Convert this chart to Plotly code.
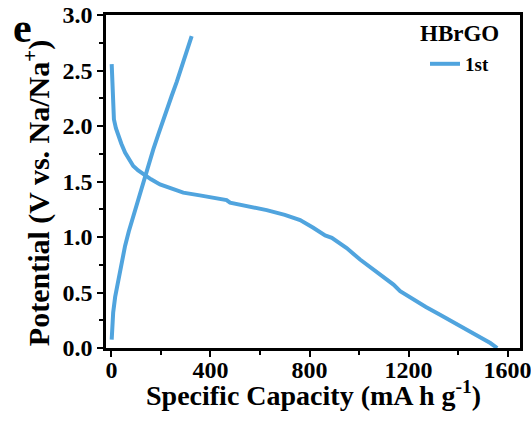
import plotly.graph_objects as go

# Discharge (sodiation) curve, 1st cycle
dis_cap = [1, 3, 5, 10, 18, 28, 40, 55, 70, 88, 108, 129, 160, 196, 240, 290, 357, 438, 465, 479,
           560, 627, 700, 762, 815, 863, 890, 950, 1004, 1070, 1139, 1166, 1219, 1270, 1327, 1380,
           1435, 1490, 1530, 1558]
dis_v = [2.557, 2.38, 2.21, 2.06, 1.98, 1.91, 1.84, 1.76, 1.70, 1.64, 1.60, 1.564, 1.52, 1.474,
         1.435, 1.40, 1.375, 1.338, 1.333, 1.309, 1.275, 1.242, 1.20, 1.152, 1.083, 1.014, 0.993,
         0.90, 0.797, 0.685, 0.571, 0.511, 0.436, 0.37, 0.30, 0.235, 0.165, 0.095, 0.045, 0.0]

# Charge (desodiation) curve, 1st cycle
chg_cap = [1, 3, 7, 15, 28, 40, 55, 70, 88, 108, 129, 150, 169, 190, 209, 226, 243, 264, 284, 304, 324]
chg_v = [0.075, 0.20, 0.32, 0.46, 0.62, 0.77, 0.92, 1.05, 1.19, 1.34, 1.49, 1.64, 1.79, 1.93,
         2.06, 2.16, 2.27, 2.40, 2.54, 2.67, 2.81]

x_ticks = [0, 400, 800, 1200, 1600]
y_ticks = [0.0, 0.5, 1.0, 1.5, 2.0, 2.5, 3.0]

color = "#50a4de"
font = "Liberation Serif"

fig = go.Figure()
fig.add_trace(go.Scatter(x=dis_cap, y=dis_v, mode="lines", name="1st",
                         line=dict(color=color, width=4), legendgroup="1st"))
fig.add_trace(go.Scatter(x=chg_cap, y=chg_v, mode="lines", name="1st", showlegend=False,
                         line=dict(color=color, width=4), legendgroup="1st"))

axis_common = dict(showline=True, linecolor="black", linewidth=2.5, mirror=True,
                   ticks="outside", ticklen=6, tickwidth=2, tickcolor="black",
                   showgrid=False, zeroline=False, automargin=False,
                   ticklabeloverflow="allow",
                   tickfont=dict(family=font, size=24, color="black", weight="bold"))

fig.update_xaxes(range=[-22, 1650], tickvals=x_ticks, ticktext=[str(v) for v in x_ticks],
                 minor=dict(dtick=200, ticks="outside", ticklen=4, tickwidth=2, tickcolor="black"),
                 ticklabelstandoff=-8, **axis_common)
fig.update_yaxes(range=[0, 3.0], tickvals=y_ticks, ticktext=[f"{v:.1f}" for v in y_ticks],
                 minor=dict(dtick=0.25, ticks="outside", ticklen=4, tickwidth=2, tickcolor="black"),
                 **axis_common)

fig.update_layout(
    width=531, height=428,
    margin=dict(l=106, r=11, t=15, b=80, autoexpand=False),
    plot_bgcolor="white", paper_bgcolor="white",
    showlegend=True,
    legend=dict(x=0.7705, y=0.853, xanchor="left", yanchor="middle",
                bgcolor="rgba(0,0,0,0)", borderwidth=0,
                font=dict(family=font, size=19, color="black", weight="bold")),
)

fig.add_annotation(text="<b>HBrGO</b>", xref="paper", yref="paper", x=0.853, y=0.943,
                   xanchor="center", yanchor="middle", showarrow=False,
                   font=dict(family=font, size=23, color="black"))
fig.add_annotation(text="<b>Specific Capacity (mA h g<sup>-1</sup>)</b>", xref="paper", yref="paper",
                   x=0.5, y=-0.137, xanchor="center", yanchor="middle", showarrow=False,
                   font=dict(family=font, size=28, color="black"))
fig.add_annotation(text="<b>Potential (V vs. Na/Na<sup>+</sup>)</b>", xref="paper", yref="paper",
                   x=-0.1667, y=0.465, xanchor="center", yanchor="middle", showarrow=False,
                   textangle=-90, font=dict(family=font, size=30, color="black"))
fig.add_annotation(text="<b>e</b>", xref="paper", yref="paper", x=-0.2017, y=0.962,
                   xanchor="center", yanchor="middle", showarrow=False,
                   font=dict(family=font, size=42, color="black"))

# remove the browser's default 8px body margin so the figure fills the window exactly
fig.write_html("out.html", config={"displayModeBar": False},
               post_script="document.body.style.margin='0';")
